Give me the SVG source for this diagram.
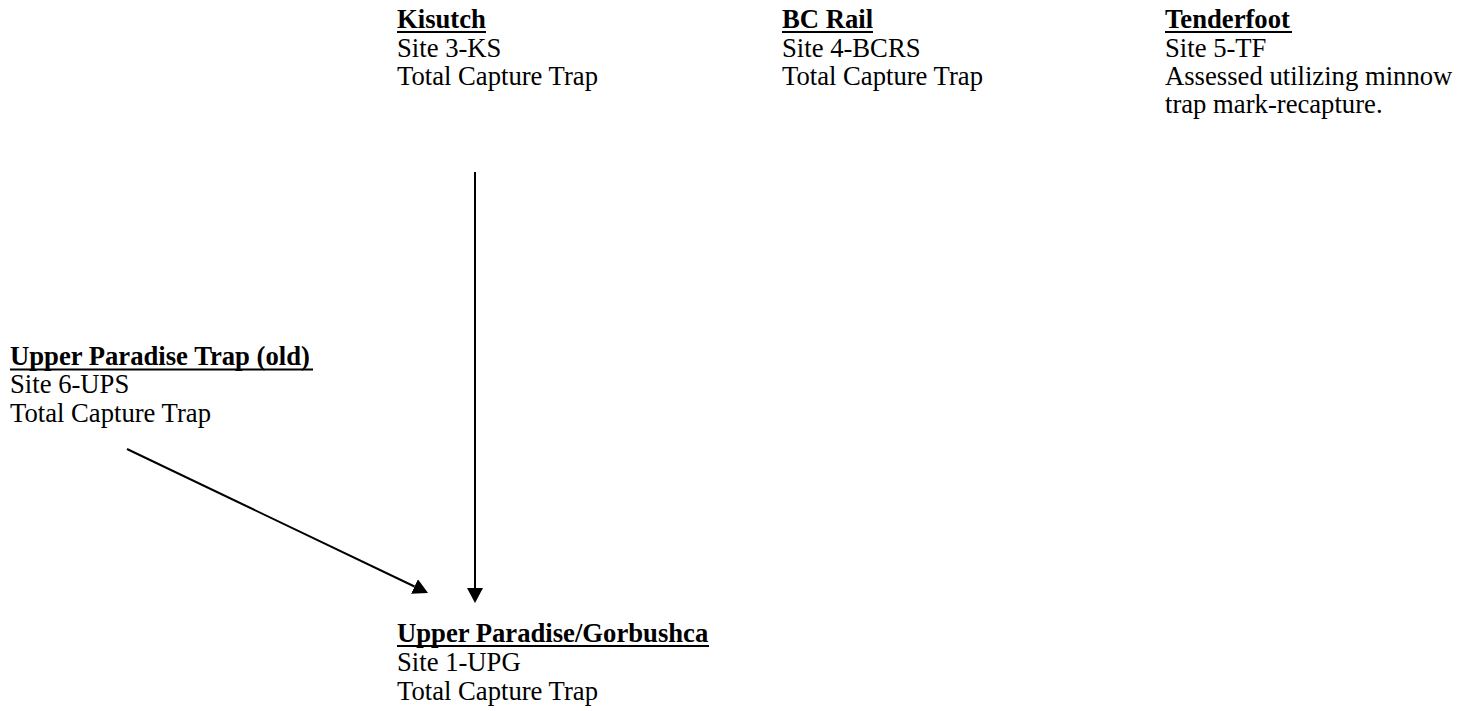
<svg xmlns="http://www.w3.org/2000/svg" width="1458" height="711" viewBox="0 0 1458 711">
<style>
text{font-family:"Liberation Serif","Times New Roman",serif;font-size:26.67px;fill:#000}
.t{font-weight:bold}
.u{stroke:#000;stroke-width:2}
.c{stroke:#000;stroke-width:2;fill:none;marker-end:url(#ah)}
</style>
<defs>
<marker id="ah" markerUnits="userSpaceOnUse" markerWidth="15" markerHeight="16" refX="0" refY="8" orient="auto" viewBox="0 0 15 16">
<path d="M0,0 L15,8 L0,16 z" fill="#000"/>
</marker>
</defs>
<rect width="1458" height="711" fill="#fff"/>
<g id="connectors">
<line class="c" x1="475" y1="172" x2="475" y2="588"/>
<line class="c" x1="127" y1="449" x2="414.5" y2="586.5"/>
</g>
<g id="kisutch">
<text class="t" x="397" y="28">Kisutch</text>
<line class="u" x1="397" y1="32" x2="486" y2="32"/>
<text x="397" y="57">Site 3-KS</text>
<text x="397" y="85">Total Capture Trap</text>
</g>
<g id="bcrail">
<text class="t" x="782" y="28">BC Rail</text>
<line class="u" x1="782" y1="32" x2="873" y2="32"/>
<text x="782" y="57">Site 4-BCRS</text>
<text x="782" y="85">Total Capture Trap</text>
</g>
<g id="tenderfoot">
<text class="t" x="1165" y="28">Tenderfoot</text>
<line class="u" x1="1165" y1="32" x2="1292" y2="32"/>
<text x="1165" y="57">Site 5-TF</text>
<text x="1165" y="85">Assessed utilizing minnow</text>
<text x="1165" y="113">trap mark-recapture.</text>
</g>
<g id="upper-paradise-old">
<text class="t" x="10" y="365">Upper Paradise Trap (old)</text>
<line class="u" x1="10" y1="369.5" x2="313" y2="369.5"/>
<text x="10" y="393">Site 6-UPS</text>
<text x="10" y="422">Total Capture Trap</text>
</g>
<g id="upper-paradise-gorbushca">
<text class="t" x="397" y="642">Upper Paradise/Gorbushca</text>
<line class="u" x1="397" y1="646" x2="709" y2="646"/>
<text x="397" y="671">Site 1-UPG</text>
<text x="397" y="700">Total Capture Trap</text>
</g>
</svg>
